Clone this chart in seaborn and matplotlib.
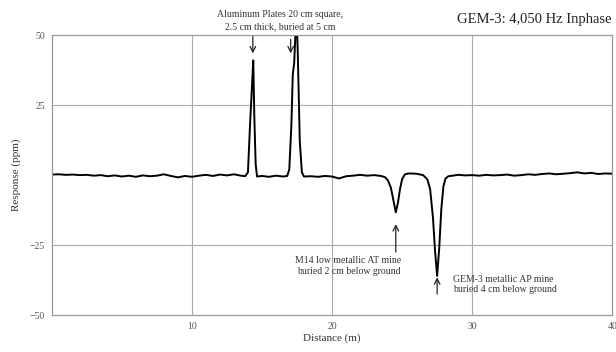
import matplotlib
matplotlib.use("Agg")
import matplotlib.pyplot as plt
import seaborn as sns
import pandas as pd

distance = [0.0, 0.5, 1.0, 1.5, 2.0, 2.5, 3.0, 3.5, 4.0, 4.5, 5.0, 5.5, 6.0, 6.5, 7.0, 7.5,
            8.0, 8.5, 9.0, 9.5, 10.0, 10.5, 11.0, 11.5, 12.0, 12.5, 13.0, 13.5, 13.8, 14.0,
            14.15, 14.3, 14.38, 14.45, 14.55, 14.65, 15.0, 15.5, 16.0, 16.5, 16.8, 16.95, 17.1,
            17.2, 17.3, 17.45, 17.55, 17.7, 17.85, 18.0, 18.5, 19.0, 19.5, 20.0, 20.5, 21.0,
            21.5, 22.0, 22.5, 23.0, 23.5, 23.8, 24.0, 24.2, 24.4, 24.55, 24.7, 24.85, 25.0,
            25.2, 25.5, 26.0, 26.5, 26.8, 27.0, 27.2, 27.35, 27.5, 27.65, 27.8, 27.95, 28.1,
            28.3, 28.6, 29.0, 29.5, 30.0, 30.5, 31.0, 31.5, 32.0, 32.5, 33.0, 33.5, 34.0, 34.5,
            35.0, 35.5, 36.0, 36.5, 37.0, 37.5, 38.0, 38.5, 39.0, 39.5, 40.0]
response = [0.2, 0.3, 0.1, 0.2, 0.0, 0.1, -0.2, 0.0, -0.4, -0.1, -0.5, -0.2, -0.6, -0.1, -0.4, -0.2,
            0.3, -0.3, -0.8, -0.3, -0.6, -0.2, 0.1, -0.3, 0.2, -0.1, 0.3, -0.2, -0.4, 1.0,
            18, 33, 41, 22, 4, -0.5, -0.3, -0.6, -0.2, -0.5, -0.3, 2, 18,
            36, 40, 58, 45, 12, 1, -0.5, -0.4, -0.6, -0.3, -0.5, -1.2, -0.4,
            -0.2, 0.1, -0.2, 0.0, -0.3, -0.8, -2.0, -4.5, -9.5, -13.3, -10, -5, -1.5,
            0.3, 0.6, 0.5, 0.0, -1.5, -5, -15, -27, -36, -26, -12, -4, -1.2,
            -0.4, -0.2, 0.1, -0.1, 0.0, -0.2, 0.1, -0.1, 0.0, 0.2, -0.2, 0.0, 0.3, 0.1,
            0.4, 0.6, 0.3, 0.5, 0.7, 1.0, 0.6, 0.8, 0.4, 0.6, 0.5]

x_ticks = [10, 20, 30, 40]
y_ticks = [-50, -25, 25, 50]

sns.set_style("white")
plt.rcParams['font.family'] = ['Liberation Serif', 'DejaVu Serif']

fig = plt.figure(figsize=(6.16, 3.52), dpi=100)
ax = fig.add_axes([0.084, 0.105, 0.910, 0.795])

df = pd.DataFrame({"Distance": distance, "Response": response})
sns.lineplot(data=df, x="Distance", y="Response", ax=ax, color="black", linewidth=1.4)

ax.set_xlim(0, 40)
ax.set_ylim(-50, 50)
ax.set_xticks(x_ticks)
ax.set_yticks(y_ticks)
ax.tick_params(axis="both", length=0, labelsize=7, colors="#555555", pad=5)
for v in [10, 20, 30]:
    ax.axvline(v, color="#aaaaaa", linewidth=0.8, zorder=0)
for v in [25, -25]:
    ax.axhline(v, color="#aaaaaa", linewidth=0.8, zorder=0)
for s in ax.spines.values():
    s.set_color("#999999")
    s.set_linewidth(0.9)

ax.set_xlabel("Distance (m)", fontsize=8, color="#333333", labelpad=2)
ax.set_ylabel("Response (ppm)", fontsize=8, color="#333333", labelpad=6)

fig.text(0.993, 0.945, "GEM-3: 4,050 Hz Inphase", ha="right", va="center", fontsize=10.5, color="#222222")
fig.text(0.455, 0.96, "Aluminum Plates 20 cm square,", ha="center", va="center", fontsize=7, color="#333333")
fig.text(0.455, 0.925, "2.5 cm thick, buried at 5 cm", ha="center", va="center", fontsize=7, color="#333333")

arrow = dict(arrowstyle="->", color="#222222", lw=0.9, shrinkA=0, shrinkB=0)
ax.annotate("", xy=(14.35, 43.5), xytext=(14.35, 49.5), arrowprops=arrow)
ax.annotate("", xy=(17.05, 43.5), xytext=(17.05, 48.5), arrowprops=arrow)
ax.annotate("", xy=(24.55, -17.5), xytext=(24.55, -27.5), arrowprops=arrow)
ax.annotate("", xy=(27.5, -36.5), xytext=(27.5, -42.5), arrowprops=arrow)

ax.text(24.9, -32.5, "M14 low metallic AT mine\nburied 2 cm below ground", ha="right", va="center",
        fontsize=7, color="#333333", linespacing=1.2)
ax.text(28.6, -39.0, "GEM-3 metallic AP mine\nburied 4 cm below ground", ha="left", va="center",
        fontsize=7, color="#333333", linespacing=1.2)

fig.savefig("out.png", dpi=100)
